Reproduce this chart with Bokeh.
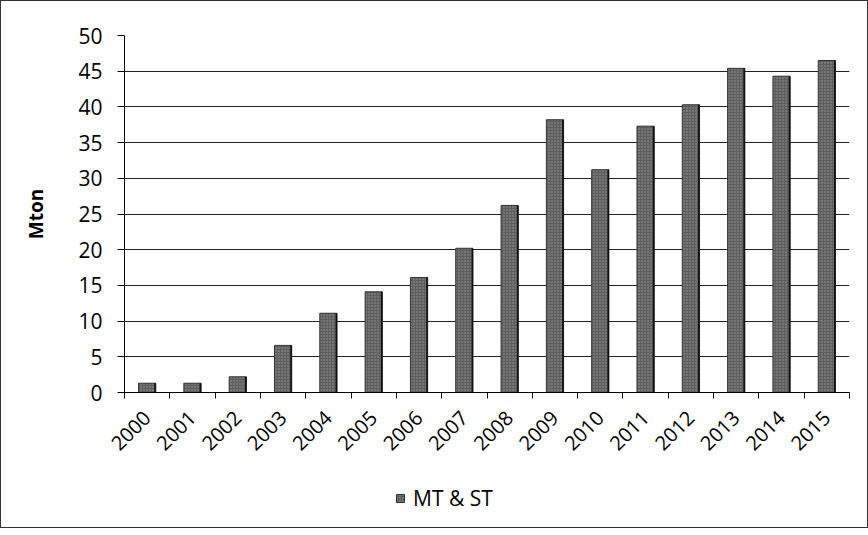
from bokeh.plotting import figure
from bokeh.models import Range1d, FixedTicker, Legend, LegendItem
from bokeh.layouts import column
from bokeh.transform import dodge
from bokeh.embed import file_html
from bokeh.resources import INLINE
from math import pi

years = ["2000", "2001", "2002", "2003", "2004", "2005", "2006", "2007",
         "2008", "2009", "2010", "2011", "2012", "2013", "2014", "2015"]
values = [1.3, 1.3, 2.2, 6.6, 11.1, 14.1, 16.1, 20.2,
          26.2, 38.2, 31.2, 37.3, 40.3, 45.4, 44.3, 46.5]
y_ticks = [0, 5, 10, 15, 20, 25, 30, 35, 40, 45, 50]
series_name = "MT & ST"

idx = list(range(len(years)))

bar_style = dict(fill_color="#5e5e5e", line_color="#333333", line_width=1,
                 hatch_pattern="dot", hatch_color="#9a9a9a", hatch_scale=3,
                 hatch_weight=1)

p = figure(width=866, height=460, output_backend="svg", toolbar_location=None,
           x_range=Range1d(-0.5, len(years) - 0.5), y_range=Range1d(0, 50),
           min_border_left=123, min_border_right=18, min_border_top=34,
           min_border_bottom=69)
p.outline_line_color = None
p.background_fill_color = "white"
p.border_fill_color = "white"

bars = p.vbar(x=idx, top=values, width=0.38, bottom=0, **bar_style)
p.vbar(x=dodge("x", 0.175), top="top", width=0.035, bottom=0,
       source=bars.data_source, fill_color="#111111", line_color=None)

# axes
p.xaxis.ticker = FixedTicker(ticks=idx, minor_ticks=[i - 0.5 for i in range(len(years) + 1)])
p.xaxis.major_label_overrides = {i: y for i, y in zip(idx, years)}
p.xaxis.major_tick_line_color = None
p.xaxis.minor_tick_line_color = "black"
p.xaxis.minor_tick_out = 6
p.xaxis.minor_tick_in = 0
p.xaxis.major_label_orientation = pi / 4
p.xaxis.major_label_text_font = "Open Sans"
p.xaxis.major_label_text_font_size = "20px"
p.xaxis.major_label_text_color = "black"
p.xaxis.axis_line_color = "black"
p.xaxis.major_label_standoff = 16

p.yaxis.ticker = FixedTicker(ticks=y_ticks)
p.yaxis.minor_tick_line_color = None
p.yaxis.major_tick_out = 7
p.yaxis.major_tick_in = 0
p.yaxis.major_tick_line_color = "black"
p.yaxis.axis_line_color = "black"
p.yaxis.major_label_text_font = "Open Sans"
p.yaxis.major_label_text_font_size = "21px"
p.yaxis.major_label_text_color = "black"
p.yaxis.major_label_standoff = 15
p.yaxis.axis_label = "Mton"
p.yaxis.axis_label_text_font = "Open Sans"
p.yaxis.axis_label_text_font_style = "bold"
p.yaxis.axis_label_text_font_size = "19px"
p.yaxis.axis_label_text_color = "black"
p.yaxis.axis_label_standoff = 26

p.xgrid.grid_line_color = None
p.ygrid.ticker = FixedTicker(ticks=y_ticks)
p.ygrid.grid_line_color = "#222222"
p.ygrid.grid_line_width = 1

# legend strip below the chart
q = figure(width=866, height=66, output_backend="svg", toolbar_location=None,
           x_range=Range1d(0, 1), y_range=Range1d(0, 1),
           x_axis_type=None, y_axis_type=None,
           min_border_left=0, min_border_right=0, min_border_top=0,
           min_border_bottom=0)
q.outline_line_color = None
q.xgrid.grid_line_color = None
q.ygrid.grid_line_color = None
key = q.vbar(x=[0], top=[0], width=0.01, bottom=0, **bar_style)

legend = Legend(items=[LegendItem(label=series_name, renderers=[key])],
                location=(271, 15), orientation="horizontal",
                label_text_font="Open Sans", label_text_font_size="21px",
                label_text_color="black", glyph_width=10, glyph_height=10,
                background_fill_alpha=0, border_line_color=None,
                label_standoff=8, padding=2, margin=0)
q.add_layout(legend, "center")

layout = column(p, q, spacing=0)
layout.styles = {"border": "1px solid #333"}

open("out.html", "w").write(file_html(layout, INLINE))
